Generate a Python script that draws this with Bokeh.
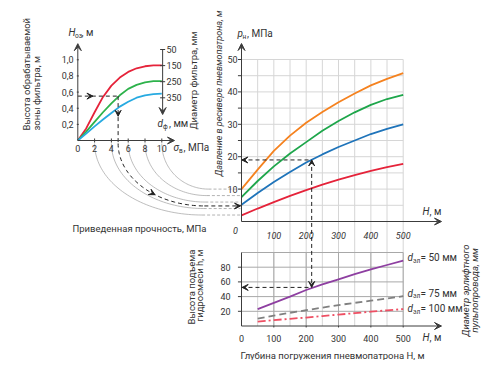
import numpy as np
from bokeh.plotting import figure
from bokeh.models import Range1d, Arrow, VeeHead
from bokeh.core.properties import value
from bokeh.embed import file_html
from bokeh.resources import INLINE

# ---------------- data ----------------
# left panel: height of treated filter zone vs reduced strength
sigma = [0, 1, 2, 3, 4, 5, 6, 7, 8, 9, 10]
hoz_d150 = [0, 0.15, 0.35, 0.54, 0.68, 0.78, 0.85, 0.895, 0.92, 0.93, 0.93]
hoz_d250 = [0, 0.11, 0.23, 0.35, 0.46, 0.56, 0.64, 0.69, 0.72, 0.735, 0.735]
hoz_d350 = [0, 0.085, 0.175, 0.26, 0.34, 0.42, 0.48, 0.53, 0.56, 0.575, 0.58]
sigma_ticks = [2, 4, 6, 8, 10]
sigma_tick_labels = ["2", "4", "6", "8", "10"]
hoz_ticks = [0.2, 0.4, 0.6, 0.8, 1.0]
hoz_tick_labels = ["0,2", "0,4", "0,6", "0,8", "1,0"]
filter_d_ticks = [50, 150, 250, 350]
filter_d_labels = ["50", "150", "250", "350"]

# right top panel: receiver pressure vs depth
depth = [0, 50, 100, 150, 200, 250, 300, 350, 400, 450, 500]
p_orange = [10, 16, 21.8, 26.5, 30.5, 33.8, 36.8, 39.5, 42, 44, 45.8]
p_green = [7.5, 12.5, 17, 21, 24.5, 28, 31, 33.7, 36, 37.8, 39.1]
p_blue = [5.2, 8.8, 12.2, 15.3, 18.2, 20.7, 23, 25, 27, 28.6, 30]
p_red = [1.9, 4, 6, 7.9, 9.7, 11.4, 12.9, 14.3, 15.6, 16.8, 17.8]
p_ticks = [10, 20, 30, 40, 50]
p_tick_labels = ["10", "20", "30", "40", "50"]
depth_ticks = [100, 200, 300, 400, 500]
depth_tick_labels = ["100", "200", "300", "400", "500"]

# right bottom panel: lift height vs depth
depth_lift = [50, 100, 150, 200, 250, 300, 350, 400, 450, 500]
h_d50 = [23, 31.5, 40, 49, 56.5, 63.5, 70.5, 77, 83, 89]
h_d75 = [10, 14, 18, 21.5, 25, 28.5, 31.5, 34.5, 37.5, 40.5]
h_d100 = [6, 8, 9.8, 11.5, 13.5, 15.5, 17.5, 19.5, 21.3, 23]
h_ticks = [20, 40, 60, 80]
h_tick_labels = ["20", "40", "60", "80"]
pipe_d_labels = ["= 50 мм", "= 75 мм", "= 100 мм"]

# worked example
ex_hoz, ex_sigma, ex_p, ex_depth, ex_h = 0.55, 4.8, 19, 217, 52.5

# ---------------- layout ----------------
W, H = 492, 360
X0, X1, Y0, Y1 = 0, W, 0, H
FONT = "Roboto"
AX = "#3c3c3c"
TXT = "#333333"


def lin(v0, p0, v1, p1):
    k = (p1 - p0) / (v1 - v0)
    return (lambda v: p0 + (np.asarray(v, dtype=float) - v0) * k,
            lambda pg: v0 + (pg - p0) / k)


Lx, Lx_inv = lin(0, 77.3, 10, 161.3)
Ly, Ly_inv = lin(0, 140, 1.0, 59.3)
Dy, Dy_inv = lin(50, 49, 350, 97.3)
Px, Px_inv = lin(0, 241, 500, 402.7)
Py, Py_inv = lin(0, 221, 50, 59)
By, By_inv = lin(0, 325.5, 80, 266.7)

p = figure(width=W, height=H, x_range=Range1d(X0, X1), y_range=Range1d(Y1, Y0),
           x_axis_type=None, y_axis_type=None, min_border=0,
           outline_line_color=None, output_backend="svg", toolbar_location=None,
           background_fill_color="white", border_fill_color="white")
p.extra_x_ranges = {"L": Range1d(Lx_inv(X0), Lx_inv(X1)),
                    "P": Range1d(Px_inv(X0), Px_inv(X1))}
p.extra_y_ranges = {"L": Range1d(Ly_inv(Y1), Ly_inv(Y0)),
                    "D": Range1d(Dy_inv(Y1), Dy_inv(Y0)),
                    "P": Range1d(Py_inv(Y1), Py_inv(Y0)),
                    "B": Range1d(By_inv(Y1), By_inv(Y0))}


def txt(x, y, s, xr="default", yr="default", size=9.5, align="left",
        baseline="middle", style="normal", angle=0.0, color=TXT):
    xs = list(np.atleast_1d(x)); ys = list(np.atleast_1d(y))
    ss = list(s) if isinstance(s, (list, tuple)) else [s]
    n = max(len(xs), len(ys), len(ss))
    xs = xs * n if len(xs) == 1 else xs
    ys = ys * n if len(ys) == 1 else ys
    ss = ss * n if len(ss) == 1 else ss
    p.text(x=xs, y=ys, text=ss, x_range_name=xr, y_range_name=yr,
           text_font=value(FONT), text_font_size=f"{size}px",
           text_align=align, text_baseline=baseline,
           text_font_style=style, angle=angle, text_color=color)


def arrow(x0, y0, x1, y1, xr="default", yr="default", size=6, color="#222",
          body=False, lw=1.0, dash="solid"):
    p.add_layout(Arrow(end=VeeHead(size=size, fill_color=color, line_color=color, line_width=1),
                       x_start=x0, y_start=y0, x_end=x1, y_end=y1,
                       x_range_name=xr, y_range_name=yr,
                       line_color=color, line_width=lw, line_dash=dash,
                       line_alpha=1.0 if body else 0.0))


def seg(x0, y0, x1, y1, xr="default", yr="default", color=AX, lw=1.0, dash="solid"):
    p.segment(x0=x0, y0=y0, x1=x1, y1=y1, x_range_name=xr, y_range_name=yr,
              line_color=color, line_width=lw, line_dash=dash)


def subscripted(x, y, main, sub, rest, size=10, main_style="italic", w_main=6.0, w_sub=6.0):
    txt(x, y, main, size=size, style=main_style)
    txt(x + w_main, y + 3, sub, size=6.5)
    txt(x + w_main + w_sub, y, rest, size=size)


# ---------------- grids (right panels) ----------------
grid_depth = list(range(50, 501, 50))
for d in grid_depth:
    seg(Px(d), Py(50), Px(d), By(0), color="#d6d6d6", lw=1)
for d in depth_ticks:
    seg(Px(d), By(100), Px(d), By(0), color="#a8a8a8", lw=1)
for v in range(5, 51, 5):
    seg(0, v, 500, v, xr="P", yr="P", color="#d6d6d6", lw=1)
for v in h_ticks + [100]:
    seg(0, v, 500, v, xr="P", yr="B", color="#a8a8a8", lw=1)

# ---------------- arcs linking sigma axis to pressure axis ----------------
t = np.linspace(0, np.pi / 2, 50)
arc_xs, arc_ys = [], []
for s in sigma_ticks:
    xs0, ys0 = float(Lx(s)), 143.0
    xe, ye = 200 + 0.8 * s, float(Py(s))
    arc_xs.append(list(xe - (xe - xs0) * np.cos(t)))
    arc_ys.append(list(ys0 + (ye - ys0) * np.sin(t)))
    seg(xe, ye, float(Px(0)) - 1, ye, color="#a0a0a0", lw=0.8, dash="3 2")
p.multi_line(arc_xs, arc_ys, line_color="#a0a0a0", line_width=0.7)

# worked example arc (black dashed)
xs0, ys0 = float(Lx(ex_sigma)), 143.0
xe, ye = 200 + 0.8 * ex_sigma, float(Py(ex_sigma))
ex_ax = xe - (xe - xs0) * np.cos(t)
ex_ay = ys0 + (ye - ys0) * np.sin(t)
p.line(list(ex_ax), list(ex_ay), line_color="#222", line_width=1, line_dash="4 3")
seg(xe, ye, float(Px(0)) - 2, ye, color="#222", lw=1, dash="4 3")
k = 30
arrow(ex_ax[k - 1], ex_ay[k - 1], ex_ax[k], ex_ay[k], size=6)
arrow(float(Px(0)) - 6, ye, float(Px(0)) - 1, ye, size=6)

# ---------------- left panel ----------------
for ys, c in [(hoz_d150, "#e5233a"), (hoz_d250, "#2db24b"), (hoz_d350, "#27aae1")]:
    p.line(sigma, ys, x_range_name="L", y_range_name="L", line_color=c, line_width=1.8)
# axes
arrow(0, 0, 0, 1.2, xr="L", yr="L", size=7, color=AX, body=True)
arrow(0, 0, Lx_inv(174), 0, xr="L", yr="L", size=7, color=AX, body=True)
for s in sigma_ticks:
    seg(s, -0.025, s, 0.025, xr="L", yr="L")
for v in hoz_ticks:
    seg(-0.12, v, 0.12, v, xr="L", yr="L")
txt(-0.5, hoz_ticks, hoz_tick_labels, xr="L", yr="L", align="right", size=9)
txt(sigma_ticks, Ly_inv(148), sigma_tick_labels, xr="L", yr="L", align="center", size=9)
txt(0, Ly_inv(148), "0", xr="L", yr="L", align="center", size=9)
# filter diameter scale
dx = 10.1
p.add_layout(Arrow(end=VeeHead(size=7, fill_color=AX, line_color=AX),
                   x_start=dx, y_start=50, x_end=dx, y_end=Dy_inv(114),
                   x_range_name="L", y_range_name="D", line_color=AX, line_width=1))
for d in filter_d_ticks:
    seg(dx - 0.3, d, dx + 0.3, d, xr="L", yr="D")
txt(dx + 0.45, filter_d_ticks, filter_d_labels, xr="L", yr="D", size=9)
# worked example on left panel
seg(0, ex_hoz, ex_sigma, ex_hoz, xr="L", yr="L", color="#222", dash="4 3")
seg(ex_sigma, ex_hoz, ex_sigma, Ly_inv(143), xr="L", yr="L", color="#222", dash="4 3")
arrow(1.3, ex_hoz, 1.8, ex_hoz, xr="L", yr="L", size=6)
arrow(ex_sigma, 0.36, ex_sigma, 0.30, xr="L", yr="L", size=6)
# labels
subscripted(68, 32, "H", "оз", ", м", w_main=6.5, w_sub=6.5)
subscripted(173, 147, "σ", "в", ", МПа", w_main=5.5, w_sub=4.5)
subscripted(157, 123, "d", "ф", ", мм", w_main=5.5, w_sub=6.0)
txt(26, 130, "Высота обрабатываемой", angle=np.pi / 2, align="left")
txt(36, 130, "зоны фильтра, м", angle=np.pi / 2, align="left")
txt(193, 80, "Диаметр фильтра, мм", angle=np.pi / 2, align="center")
txt(139, 228, "Приведенная прочность, МПа", align="center")

# ---------------- right top panel ----------------
for ys, c in [(p_orange, "#f5821f"), (p_green, "#1ea64b"), (p_blue, "#1f74ba"), (p_red, "#e5233a")]:
    p.line(depth, ys, x_range_name="P", y_range_name="P", line_color=c, line_width=1.8)
arrow(0, 0, 0, Py_inv(43), xr="P", yr="P", size=7, color=AX, body=True)
arrow(0, 0, Px_inv(441), 0, xr="P", yr="P", size=7, color=AX, body=True)
for v in range(5, 51, 5):
    seg(-11, v, 0, v, xr="P", yr="P")
txt(Px_inv(237), p_ticks, p_tick_labels, yr="P", xr="P", align="right", size=9)
txt(depth_ticks, 235, depth_tick_labels, xr="P", align="center", size=9, style="italic")
txt(float(Px(0)) - 6, 230, "0", align="center", size=9, style="italic")
subscripted(237, 33, "p", "н", ", МПа", w_main=5.0, w_sub=4.5)
txt(422, 211, "H", style="italic", size=10)
txt(429, 211, ", м", size=10)
txt(218, 93, "Давление в ресивере пневмопатрона, м", angle=np.pi / 2, align="center",
    style="italic", size=9)
# worked example
seg(float(Px(ex_depth)), float(Py(ex_p)), float(Px(ex_depth)), float(By(ex_h)), color="#222", dash="4 3")
seg(0, ex_p, ex_depth, ex_p, xr="P", yr="P", color="#222", dash="4 3")
arrow(ex_depth, ex_p - 2.5, ex_depth, ex_p, xr="P", yr="P", size=6)
arrow(8, ex_p, 1, ex_p, xr="P", yr="P", size=6)

# ---------------- right bottom panel ----------------
p.line(depth_lift, h_d50, x_range_name="P", y_range_name="B", line_color="#8e3fa1", line_width=1.8)
p.line(depth_lift, h_d75, x_range_name="P", y_range_name="B", line_color="#808080", line_width=1.8, line_dash="7 4")
p.line(depth_lift, h_d100, x_range_name="P", y_range_name="B", line_color="#ee4f63", line_width=1.8, line_dash="8 3 2 3")
seg(0, 0, 0, 100, xr="P", yr="B")
arrow(0, 0, Px_inv(441), 0, xr="P", yr="B", size=7, color=AX, body=True)
for v in h_ticks:
    seg(-11, v, 0, v, xr="P", yr="B")
for d in depth_ticks:
    seg(d, -2, d, 0, xr="P", yr="B")
txt(Px_inv(230), h_ticks, h_tick_labels, xr="P", yr="B", align="right", size=9)
txt([0] + depth_ticks, By_inv(338), ["0"] + depth_tick_labels, xr="P", yr="B", align="center", size=9)
txt(422, 337, "H", style="italic", size=10)
txt(429, 337, ", м", size=10)
# worked example
seg(0, ex_h, ex_depth, ex_h, xr="P", yr="B", color="#222", dash="4 3")
arrow(ex_depth, ex_h + 4, ex_depth, ex_h, xr="P", yr="B", size=6)
arrow(20, ex_h, 2, ex_h, xr="P", yr="B", size=6)
# pipe diameter labels
label_y = [257, 292.7, 308.3]
for y, s in zip(label_y, pipe_d_labels):
    subscripted(407, y, "d", "эл", s, w_main=5.5, w_sub=7.5)
txt(191, 249, "Высота подъема", angle=np.pi / 2, align="right")
txt(199, 249, "гидросмеси h, м", angle=np.pi / 2, align="right")
txt(465, 290, "Диаметр эрлифтного", angle=np.pi / 2, align="center", style="italic")
txt(474, 290, "пульпопровода, мм", angle=np.pi / 2, align="center", style="italic")
txt(332, 355, "Глубина погружения пневмопатрона H, м", align="center")

open("out.html", "w").write(file_html(p, INLINE))
